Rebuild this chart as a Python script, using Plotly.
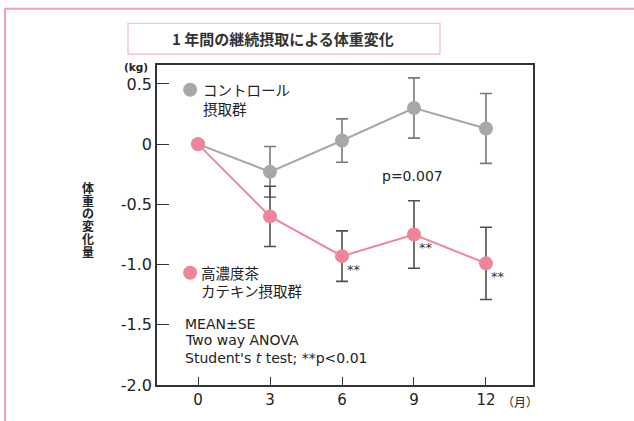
import plotly.graph_objects as go

months = [0, 3, 6, 9, 12]
control_mean = [0.0, -0.23, 0.03, 0.30, 0.13]
control_se = [None, 0.21, 0.18, 0.25, 0.29]
catechin_mean = [0.0, -0.60, -0.93, -0.75, -0.99]
catechin_se = [None, 0.25, 0.21, 0.28, 0.30]
sig_months = [6, 9, 12]
sig_labels = ["**", "**", "**"]
y_ticks = [0.5, 0, -0.5, -1.0, -1.5, -2.0]
y_tick_labels = ["0.5", "0", "-0.5", "-1.0", "-1.5", "-2.0"]
y_title_chars = ["体", "重", "の", "変", "化", "量"]
stats_lines = ["MEAN±SE", "Two way ANOVA", "Student's <i>t</i> test; **p<0.01"]

GRAY = "#a6a7ab"
PINK = "#f0849b"
LAT = "DejaVu Sans, sans-serif"
JP = "Noto Sans CJK JP, sans-serif"

# page-pixel helpers for layout positions (plot area: x 157..533, y 65..387)
def px(X):
    return (X - 157) / 376.0

def py(Y):
    return (387 - Y) / 322.0

fig = go.Figure()
fig.add_trace(go.Scatter(
    x=months, y=control_mean, mode="lines+markers",
    line=dict(color=GRAY, width=2),
    marker=dict(color=GRAY, size=14),
    error_y=dict(type="data", array=control_se, color="#7a7a7a", thickness=1.6, width=6),
    showlegend=False))
fig.add_trace(go.Scatter(
    x=months, y=catechin_mean, mode="lines+markers",
    line=dict(color=PINK, width=2),
    marker=dict(color=PINK, size=14),
    error_y=dict(type="data", array=catechin_se, color="#505050", thickness=1.6, width=6),
    showlegend=False))

# significance marks
for m, lab in zip(sig_months, sig_labels):
    idx = months.index(m)
    fig.add_annotation(x=m, y=catechin_mean[idx], text=lab, showarrow=False,
                       xanchor="left", yanchor="middle", xshift=3, yshift=-13,
                       font=dict(family=LAT, size=13, color="#333"))

# legend-like markers and labels
fig.add_trace(go.Scatter(x=[-0.33], y=[0.451], mode="markers",
                         marker=dict(color=GRAY, size=14), showlegend=False, hoverinfo="skip"))
fig.add_trace(go.Scatter(x=[-0.33], y=[-1.068], mode="markers",
                         marker=dict(color=PINK, size=14), showlegend=False, hoverinfo="skip"))
for txt, yv in [("コントロール", 0.451), ("摂取群", 0.292)]:
    fig.add_annotation(x=0.12, y=yv, text=txt, showarrow=False, xanchor="left", yanchor="middle",
                       font=dict(family=JP, size=14.5, color="#222"))
for txt, yv in [("高濃度茶", -1.068), ("カテキン摂取群", -1.218)]:
    fig.add_annotation(x=0.06, y=yv, text=txt, showarrow=False, xanchor="left", yanchor="middle",
                       font=dict(family=JP, size=14.5, color="#222"))
for txt, yv in zip(stats_lines, [-1.493, -1.630, -1.776]):
    fig.add_annotation(x=-0.61, y=yv, text=txt, showarrow=False, xanchor="left", yanchor="middle",
                       font=dict(family=LAT, size=14, color="#222"))
fig.add_annotation(x=8.92, y=-0.264, text="p=0.007", showarrow=False,
                   xanchor="center", yanchor="middle",
                   font=dict(family=LAT, size=14, color="#222"))

# axis unit labels and title
fig.add_annotation(xref="paper", yref="paper", x=px(136), y=py(67.5), text="<b>(kg)</b>",
                   showarrow=False, xanchor="center", yanchor="middle",
                   font=dict(family=LAT, size=10.5, color="#222"))
fig.add_annotation(xref="paper", yref="paper", x=px(520), y=py(404), text="（月）",
                   showarrow=False, xanchor="center", yanchor="middle",
                   font=dict(family=JP, size=12, color="#222"))
for i, ch in enumerate(y_title_chars):
    fig.add_annotation(xref="paper", yref="paper", x=px(88), y=py(188 + 12.9 * i),
                       text="<b>" + ch + "</b>", showarrow=False,
                       xanchor="center", yanchor="middle",
                       font=dict(family=JP, size=12, color="#222"))

# title box
fig.add_shape(type="rect", xref="paper", yref="paper", x0=px(128), x1=px(440), y0=py(54), y1=py(23),
              line=dict(color="#f5b7c3", width=1.2), fillcolor="white", layer="below")
fig.add_annotation(xref="paper", yref="paper", x=px(283), y=py(38.5),
                   text="<b>1 年間の継続摂取による体重変化</b>",
                   showarrow=False, xanchor="center", yanchor="middle",
                   font=dict(family=JP, size=15, color="#333"))
# outer border
fig.add_shape(type="rect", xref="paper", yref="paper", x0=px(5), x1=px(660), y0=py(440), y1=py(8.5),
              line=dict(color="#f3a0b1", width=2), layer="below")

fig.update_xaxes(range=[-1.71, 13.96], tickvals=months, ticktext=[str(m) for m in months],
                 ticks="inside", ticklen=8, tickwidth=1.2, tickcolor="#333",
                 showline=True, linecolor="#333", linewidth=1.6, mirror=True,
                 showgrid=False, zeroline=False,
                 tickfont=dict(family=LAT, size=15, color="#222"))
fig.update_yaxes(range=[-2.0, 0.657], tickvals=y_ticks, ticktext=y_tick_labels,
                 ticks="inside", ticklen=12, tickwidth=1.2, tickcolor="#333",
                 showline=True, linecolor="#333", linewidth=1.6, mirror=True,
                 showgrid=False, zeroline=False,
                 tickfont=dict(family=LAT, size=16, color="#222"))
fig.update_layout(width=634, height=421, margin=dict(l=157, r=101, t=65, b=34),
                  plot_bgcolor="white", paper_bgcolor="white")
fig.write_html("out.html", config={"displayModeBar": False},
               post_script="document.body.style.margin='0';document.body.style.overflow='hidden';")
